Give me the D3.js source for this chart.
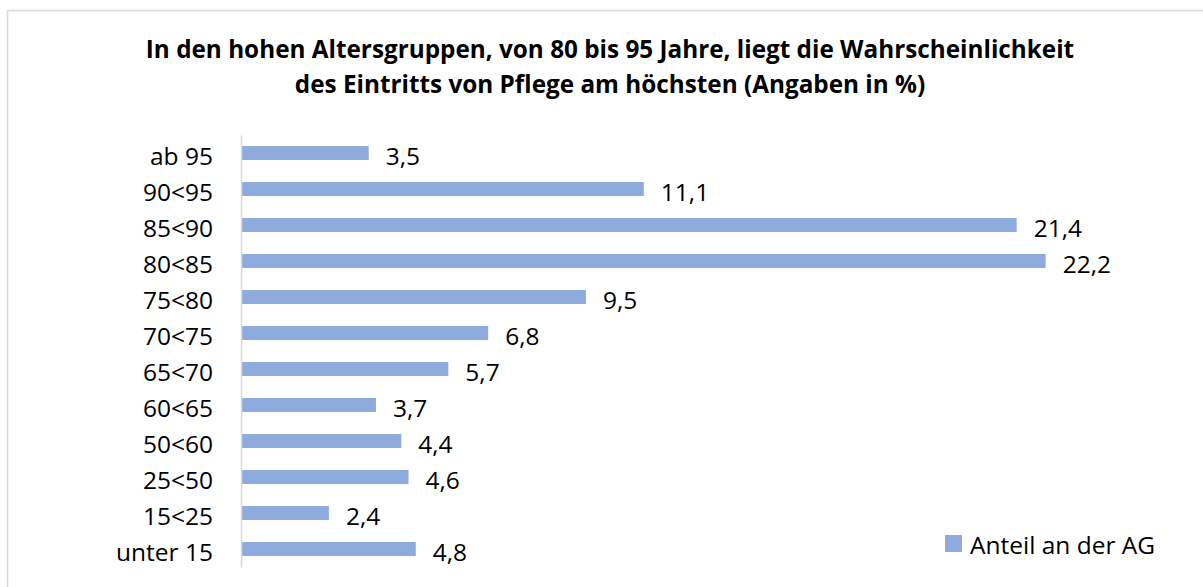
<!DOCTYPE html>
<html>
<head>
<meta charset="utf-8">
<script src="https://cdn.jsdelivr.net/npm/d3@7"></script>
<style>
  html, body { margin: 0; padding: 0; background: #fff; }
  svg { display: block; }
  text { font-family: "Open Sans", "Noto Sans", sans-serif; fill: #000; }
</style>
</head>
<body>
<svg id="chart" width="1203" height="587"></svg>
<script>
// Age groups, top to bottom
const categories = ["ab 95", "90<95", "85<90", "80<85", "75<80", "70<75",
                    "65<70", "60<65", "50<60", "25<50", "15<25", "unter 15"];
// Share of care onset per age group (%)
const values = [3.5, 11.1, 21.4, 22.2, 9.5, 6.8, 5.7, 3.7, 4.4, 4.6, 2.4, 4.8];
const seriesName = "Anteil an der AG";
const titleLines = [
  "In den hohen Altersgruppen, von 80 bis 95 Jahre, liegt die Wahrscheinlichkeit",
  "des Eintritts von Pflege am höchsten (Angaben in %)"
];

const barColor = "#8faadc";
const labelSize = "24.5px";
const fmt = v => d3.format(".1f")(v).replace(".", ",");

const svg = d3.select("#chart");

// chart frame
svg.append("rect")
  .attr("x", 7.5).attr("y", 10.5)
  .attr("width", 1210).attr("height", 600)
  .attr("fill", "#fff").attr("stroke", "#d9d9d9").attr("stroke-width", 1.5);

// title
svg.append("g").selectAll("text")
  .data(titleLines)
  .join("text")
  .attr("x", 610)
  .attr("y", (d, i) => 58 + i * 35)
  .attr("text-anchor", "middle")
  .style("font-weight", "bold")
  .style("font-size", "24.3px")
  .text(d => d);

const x = d3.scaleLinear().domain([0, 25]).range([242, 1147]);
const y = d3.scaleBand().domain(categories).range([135, 567])
  .paddingInner(0.61).paddingOuter(0.305);

// bars
svg.append("g").selectAll("rect")
  .data(values)
  .join("rect")
  .attr("x", x(0))
  .attr("y", (d, i) => y(categories[i]))
  .attr("width", d => x(d) - x(0))
  .attr("height", y.bandwidth())
  .attr("fill", barColor);

// value labels
svg.append("g").selectAll("text")
  .data(values)
  .join("text")
  .attr("x", d => x(d) + 17)
  .attr("y", (d, i) => y(categories[i]) + y.bandwidth() / 2 + 2)
  .attr("dominant-baseline", "central")
  .style("font-size", labelSize)
  .text(d => fmt(d));

// category axis
const axis = svg.append("g")
  .attr("transform", "translate(241,0)")
  .call(d3.axisLeft(y).tickSize(0).tickSizeOuter(0).tickPadding(28));
axis.select(".domain").attr("stroke", "#d9d9d9").attr("stroke-width", 1.5);
axis.selectAll(".tick text")
  .attr("dy", null)
  .attr("dominant-baseline", "central")
  .attr("transform", "translate(0,2)")
  .style("font-family", "\"Open Sans\", \"Noto Sans\", sans-serif")
  .style("font-size", labelSize)
  .attr("fill", "#000");

// legend
const legend = svg.append("g").attr("transform", "translate(945,535)");
legend.append("rect").attr("width", 17).attr("height", 17).attr("fill", barColor);
legend.append("text")
  .attr("x", 25).attr("y", 9.5)
  .attr("dominant-baseline", "central")
  .style("font-size", labelSize)
  .text(seriesName);
</script>
</body>
</html>
